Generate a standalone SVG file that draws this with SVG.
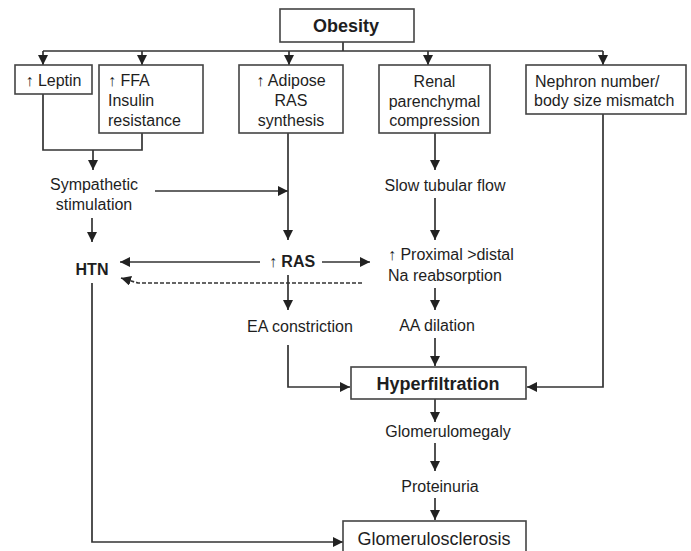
<svg xmlns="http://www.w3.org/2000/svg" width="691" height="551" viewBox="0 0 691 551">
<defs>
<marker id="ah" viewBox="0 0 10 10" refX="10" refY="5" markerWidth="10" markerHeight="10" markerUnits="userSpaceOnUse" orient="auto">
<path d="M0,0 L10,5 L0,10 z" fill="#222"/>
</marker>
<style>
text{font-family:"Liberation Sans",Arial,"DejaVu Sans",sans-serif;font-size:16px;fill:#1e1e1e}
.b{font-weight:bold}
.c{text-anchor:middle}
.up{font-weight:bold}
.box{fill:#fff;stroke:#444;stroke-width:1.6}
.ln{fill:none;stroke:#333;stroke-width:1.7}
.ar{marker-end:url(#ah)}
.dash{stroke-dasharray:4 2}
</style>
</defs>
<rect width="691" height="551" fill="#fff"/>
<g id="connectors">
<path class="ln" d="M343 42 V51 M43 51 H603"/>
<path class="ln ar" d="M43 51 V65"/>
<path class="ln ar" d="M142 51 V65"/>
<path class="ln ar" d="M289 51 V65"/>
<path class="ln ar" d="M428 51 V65"/>
<path class="ln ar" d="M603 51 V65"/>
<path class="ln" d="M43 94 V150 H142 V133"/>
<path class="ln ar" d="M93 150 V170"/>
<path class="ln ar" d="M155 191 H288"/>
<path class="ln ar" d="M288 133 V240"/>
<path class="ln ar" d="M92 218 V242"/>
<path class="ln ar" d="M260 262 H120"/>
<path class="ln ar" d="M322 262 H370"/>
<path class="ln ar dash" d="M362 283 H138 L121 278"/>
<path class="ln ar" d="M288 275 V310"/>
<path class="ln ar" d="M288 345 V387 H350"/>
<path class="ln ar" d="M435 133 V170"/>
<path class="ln ar" d="M435 198 V240"/>
<path class="ln ar" d="M435 288 V310"/>
<path class="ln ar" d="M435 338 V366"/>
<path class="ln ar" d="M603 114 V387 H527"/>
<path class="ln ar" d="M435 399 V422"/>
<path class="ln ar" d="M435 443 V471"/>
<path class="ln ar" d="M435 498 V520"/>
<path class="ln ar" d="M92 283 V542 H343"/>
</g>
<g id="obesity">
<rect class="box" x="280" y="9" width="134" height="33"/>
<text class="b c" x="346" y="32" style="font-size:18px">Obesity</text>
</g>
<g id="leptin">
<rect class="box" x="15" y="65" width="77" height="29"/>
<text class="c" x="53.5" y="86"><tspan class="up">↑</tspan> Leptin</text>
</g>
<g id="ffa">
<rect class="box" x="99" y="65" width="104" height="68"/>
<text x="108" y="86"><tspan class="up">↑</tspan> FFA</text>
<text x="108" y="106">Insulin</text>
<text x="108" y="125.5">resistance</text>
</g>
<g id="adipose">
<rect class="box" x="239" y="65" width="104" height="68"/>
<text class="c" x="291" y="86"><tspan class="up">↑</tspan> Adipose</text>
<text class="c" x="291" y="106">RAS</text>
<text class="c" x="291" y="125.5">synthesis</text>
</g>
<g id="renal">
<rect class="box" x="379" y="65" width="111" height="68"/>
<text class="c" x="434.5" y="87">Renal</text>
<text class="c" x="434.5" y="107">parenchymal</text>
<text class="c" x="434.5" y="125.5">compression</text>
</g>
<g id="nephron">
<rect class="box" x="526" y="65" width="160" height="49"/>
<text x="535" y="87">Nephron number/</text>
<text x="534" y="106">body size mismatch</text>
</g>
<g id="sympathetic">
<text class="c" x="94" y="190">Sympathetic</text>
<text class="c" x="94" y="210">stimulation</text>
</g>
<g id="slowflow">
<text class="c" x="445" y="191">Slow tubular flow</text>
</g>
<g id="htn">
<text class="b c" x="92" y="275">HTN</text>
</g>
<g id="ras">
<text class="b c" x="292" y="267">↑ RAS</text>
</g>
<g id="proximal">
<text x="388" y="260"><tspan class="up">↑</tspan> Proximal &gt;distal</text>
<text x="388" y="281">Na reabsorption</text>
</g>
<g id="ea">
<text class="c" x="300" y="332">EA constriction</text>
</g>
<g id="aa">
<text class="c" x="437" y="331">AA dilation</text>
</g>
<g id="hyperfiltration">
<rect class="box" x="351" y="367" width="175" height="32"/>
<text class="b c" x="438" y="390" style="font-size:18px">Hyperfiltration</text>
</g>
<g id="glomerulomegaly">
<text class="c" x="448" y="437">Glomerulomegaly</text>
</g>
<g id="proteinuria">
<text class="c" x="440" y="492">Proteinuria</text>
</g>
<g id="glomerulosclerosis">
<rect class="box" x="343" y="521" width="183" height="40"/>
<text class="c" x="434" y="545" style="font-size:18px">Glomerulosclerosis</text>
</g>
</svg>
